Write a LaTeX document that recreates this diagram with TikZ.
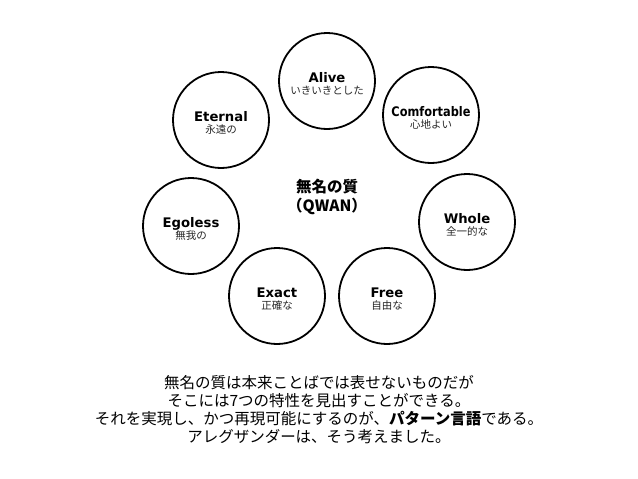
\documentclass[tikz,border=0pt]{standalone}
\usepackage{fontspec}
\setmainfont{DejaVu Sans}
\newfontfamily\jp{Noto Sans CJK JP}
\begin{document}
\begin{tikzpicture}[x=1pt,y=-1pt,
  quality/.style={circle,draw=black,line width=1.8pt,minimum size=96pt,inner sep=0pt},
  entext/.style={font=\fontsize{13.2}{15}\selectfont\bfseries,inner sep=0pt,anchor=base},
  jatext/.style={font=\jp\fontsize{10.5}{12}\selectfont,text=black!85,inner sep=0pt,anchor=base},
  centertext/.style={font=\jp\bfseries\fontsize{15.5}{19}\selectfont,align=center,inner sep=0pt},
  bodytext/.style={font=\jp\fontsize{15.5}{18}\selectfont,align=center,inner sep=0pt}]
\useasboundingbox[fill=white] (0,0) rectangle (638,479);

\node[quality] (alive) at (327,81) {};
\node[quality] (eternal) at (221,120) {};
\node[quality] (comfortable) at (431,115) {};
\node[quality] (egoless) at (191,226) {};
\node[quality] (whole) at (467,222) {};
\node[quality] (exact) at (277,296) {};
\node[quality] (free) at (387,296) {};

\foreach \n/\e/\j in {alive/Alive/いきいきとした, eternal/Eternal/永遠の,
  comfortable/\scalebox{0.86}[1]{Comfortable}/心地よい, egoless/Egoless/無我の, whole/Whole/全一的な,
  exact/Exact/正確な, free/Free/自由な}{
  \node[entext] (\n-en) at ([yshift=-1pt]\n.center) {\e};
  \node[jatext] (\n-ja) at ([yshift=-13pt]\n.center) {\j};
}

\node[centertext] (qwan) at (327,197) {無名の質\\（QWAN）};

\node[bodytext] (body) at (319,410) {無名の質は本来ことばでは表せないものだが\\
そこには7つの特性を見出すことができる。\\
それを実現し、かつ再現可能にするのが、{\bfseries パターン言語}である。\\
アレグザンダーは、そう考えました。};
\end{tikzpicture}
\end{document}
